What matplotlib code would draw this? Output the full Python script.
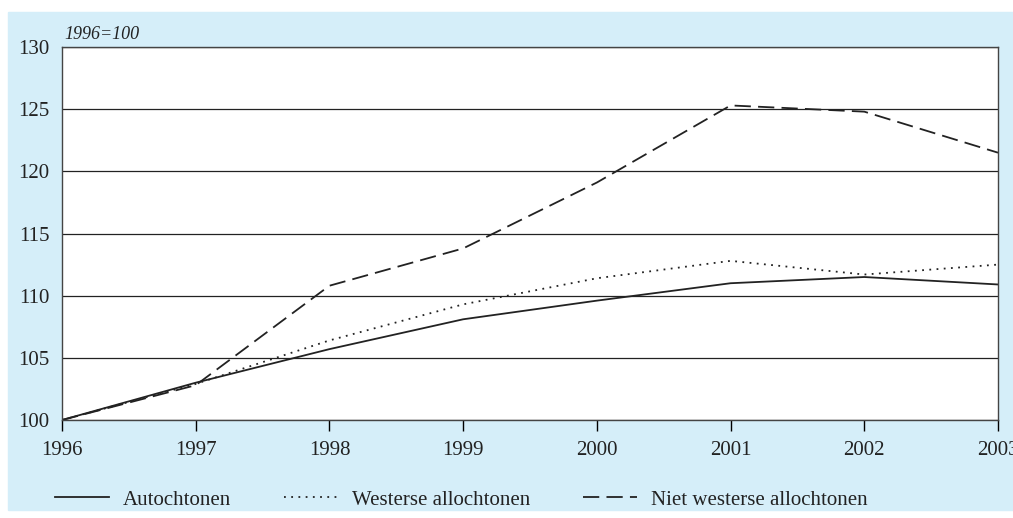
import matplotlib.pyplot as plt
from matplotlib.patches import Rectangle

# gegevens (1996=100)
jaren = [1996, 1997, 1998, 1999, 2000, 2001, 2002, 2003]
autochtonen = [100, 103.0, 105.7, 108.1, 109.6, 111.0, 111.5, 110.9]
westers = [100, 102.9, 106.4, 109.3, 111.4, 112.8, 111.7, 112.5]
niet_westers = [100, 102.8, 110.8, 113.8, 119.1, 125.3, 124.8, 121.5]
namen = ["Autochtonen", "Westerse allochtonen", "Niet westerse allochtonen"]

plt.rcParams['font.family'] = ['Liberation Serif', 'DejaVu Serif']

fig = plt.figure(figsize=(10.13, 5.18), dpi=100)
fig.patches.append(Rectangle((8 / 1013, 8 / 518), 1, 498 / 518,
                             transform=fig.transFigure, color='#d5eef9', zorder=-10))

ax = fig.add_axes([62 / 1013, 1 - 420 / 518, 936 / 1013, 373 / 518])
ax.set_facecolor('white')

l1, = ax.plot(jaren, autochtonen, color='#222222', lw=1.3, ls='-')
l2, = ax.plot(jaren, westers, color='#222222', lw=1.3, ls=(0, (1, 3)))
l3, = ax.plot(jaren, niet_westers, color='#222222', lw=1.3, ls=(0, (9, 4)))

ax.set_xlim(1996, 2003)
ax.set_ylim(100, 130)
ax.set_yticks(range(100, 131, 5))
ax.set_xticks(jaren)
ax.yaxis.grid(True, color='#222222', lw=0.9)
ax.set_axisbelow(True)
ax.tick_params(axis='y', length=0, pad=9, labelsize=15, labelcolor='#222222')
ax.tick_params(axis='x', length=8, width=1, pad=7, labelsize=15, labelcolor='#222222')
for s in ax.spines.values():
    s.set_color('#444444')
    s.set_linewidth(1)

ax.text(0.003, 1.012, "1996=100", transform=ax.transAxes, fontsize=13,
        style='italic', color='#222222', va='bottom', ha='left')

fig.legend([l1, l2, l3], namen, loc='center left', bbox_to_anchor=(55 / 1013, 1 - 500 / 518),
           ncol=3, frameon=False, fontsize=15, handlelength=2.6, handletextpad=0.65,
           columnspacing=2.55, borderpad=0, borderaxespad=0, labelcolor='#222222')

fig.savefig("out.png", dpi=100)
